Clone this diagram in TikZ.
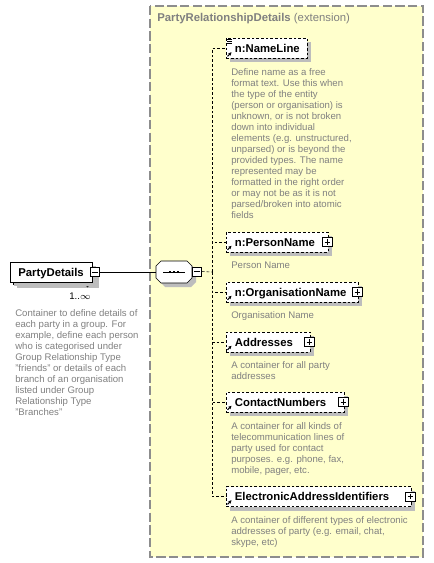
\documentclass[tikz,border=0pt]{standalone}
\usepackage{fontspec}
\setmainfont{Liberation Sans}
\usetikzlibrary{arrows.meta, positioning}

\definecolor{extyellow}{HTML}{FFFFCC}
\definecolor{docgray}{HTML}{808080}
\definecolor{shadowgray}{HTML}{BDBDBD}

\begin{document}
\begin{tikzpicture}[x=0.75pt, y=-0.75pt,
        boxshadow/.style={preaction={draw=none, fill=shadowgray, transform canvas={xshift=3pt, yshift=-3pt}}},
        elem/.style={draw, dash pattern=on 2pt off 1.5pt, fill=white, anchor=west, inner sep=0pt,
            minimum height=15pt, text height=6.3pt, text depth=0pt, align=left, text width=#1,
            font=\fontsize{8.5}{10}\selectfont\bfseries, boxshadow},
        desc/.style={inner sep=0pt, align=left, text=docgray, font=\fontsize{7.2}{8.25}\selectfont},
        plusbox/.style={draw, solid, fill=white, minimum size=7pt, inner sep=0pt,
            path picture={\draw ([xshift=1.5pt]path picture bounding box.west) -- ([xshift=-1.5pt]path picture bounding box.east)
                ([yshift=-1.5pt]path picture bounding box.north) -- ([yshift=1.5pt]path picture bounding box.south);}},
        minusbox/.style={draw, solid, fill=white, minimum size=7pt, inner sep=0pt,
            path picture={\draw ([xshift=1.5pt]path picture bounding box.west) -- ([xshift=-1.5pt]path picture bounding box.east);}},
        conn/.style={dash pattern=on 2pt off 1.5pt},
        refarrow/.style={-{Stealth[length=2.5pt, width=2.5pt]}, line width=0.8pt, solid}
    ]
    \useasboundingbox (0,0) rectangle (434,563);

    % extension area
    \draw[docgray!90, line width=1.1pt, dash pattern=on 7pt off 2.5pt, fill=extyellow] (150,6) rectangle (423,557);
    \node[anchor=base west, inner sep=0pt, text=docgray, font=\fontsize{8.5}{10}\selectfont] (exttitle) at (157,22)
        {\textbf{PartyRelationshipDetails} (extension)};

    % the repeated element
    \draw[fill=white, boxshadow] (13,266) rectangle (95,284);
    \draw[fill=white] (85,284) -- (87.5,287) -- (90,284);
    \node[elem=61.5pt, solid] (partydetails) at (10,272) {\hspace*{6pt}PartyDetails};
    \node[minusbox] (pdminus) at (95,272) {};
    \node[anchor=base, inner sep=0pt, font=\fontsize{7.2}{8.25}\selectfont] (mult) at (80,299) {1..$\infty$};
    \node[desc, anchor=north west] (pddesc) at (15,309) {Container to define details of\\each party in a group. For\\example, define each person\\who is categorised under\\Group Relationship Type\\"friends" or details of each\\branch of an organisation\\listed under Group\\Relationship Type\\"Branches"};

    % sequence
    \draw[fill=white, boxshadow] (156,266) -- (161,261) -- (187,261) -- (192,266) -- (192,278) -- (187,283) -- (161,283) -- (156,278) -- cycle;
    \node[minimum width=27pt, minimum height=16.5pt, inner sep=0pt] (seq) at (174,272) {};
    \draw ([xshift=-8pt]seq.center) -- ([xshift=8pt]seq.center);
    \foreach \dx in {-3.2,0,3.2}
        \fill ([xshift=\dx pt]seq.center) ++(-0.8pt,-0.8pt) rectangle ++(1.6pt,1.6pt);
    \node[minusbox] (seqminus) at (197,271.5) {};
    \draw (pdminus.east) -- (seq.west);
    \coordinate (hub) at (212,272);

    % children
    \node[elem=60.75pt] (nameline) at (226,48.5) {\hspace*{6.5pt}n:NameLine};
    \node[elem=76.5pt] (personname) at (226,242) {\hspace*{6.5pt}n:PersonName};
    \node[elem=99pt] (orgname) at (226,292) {\hspace*{6.5pt}n:OrganisationName};
    \node[elem=63pt] (addresses) at (226,342) {\hspace*{6.5pt}Addresses};
    \node[elem=88.5pt] (contactnumbers) at (226,402) {\hspace*{6.5pt}ContactNumbers};
    \node[elem=138.75pt] (eaddrids) at (226,496.5) {\hspace*{6.5pt}ElectronicAddressIdentifiers};

    \foreach \e in {personname,orgname,addresses,contactnumbers,eaddrids}
        \node[plusbox] at ([xshift=-1pt]\e.east) {};

    \draw[conn] (seqminus.east) -- (hub);
    \foreach \e in {nameline,personname,orgname,addresses,contactnumbers,eaddrids} {
        \draw[conn] (hub) |- (\e.west);
        \draw[refarrow] ([shift={(1.5,-2.5)}]\e.south west) -- ++(4,-4);
    }
    \foreach \dy in {1.5,3.5,5.5}
        \draw[line width=0.6pt] ([shift={(1,\dy)}]nameline.north west) -- ++(5,0);

    % documentation
    \node[desc, below right=7.5pt and 3.75pt of nameline.south west] (namelinedesc) {Define name as a free\\format text. Use this when\\the type of the entity\\(person or organisation) is\\unknown, or is not broken\\down into individual\\elements (e.g. unstructured,\\unparsed) or is beyond the\\provided types. The name\\represented may be\\formatted in the right order\\or may not be as it is not\\parsed/broken into atomic\\fields};
    \node[desc, below right=7pt and 3.75pt of personname.south west] (personnamedesc) {Person Name};
    \node[desc, below right=7pt and 3.75pt of orgname.south west] (orgnamedesc) {Organisation Name};
    \node[desc, below right=6.5pt and 3.75pt of addresses.south west] (addressesdesc) {A container for all party\\addresses};
    \node[desc, below right=7.5pt and 3.75pt of contactnumbers.south west] (contactnumbersdesc) {A container for all kinds of\\telecommunication lines of\\party used for contact\\purposes. e.g. phone, fax,\\mobile, pager, etc.};
    \node[desc, below right=7pt and 3.75pt of eaddrids.south west] (eaddridsdesc) {A container of different types of electronic\\addresses of party (e.g. email, chat,\\skype, etc)};
\end{tikzpicture}
\end{document}
